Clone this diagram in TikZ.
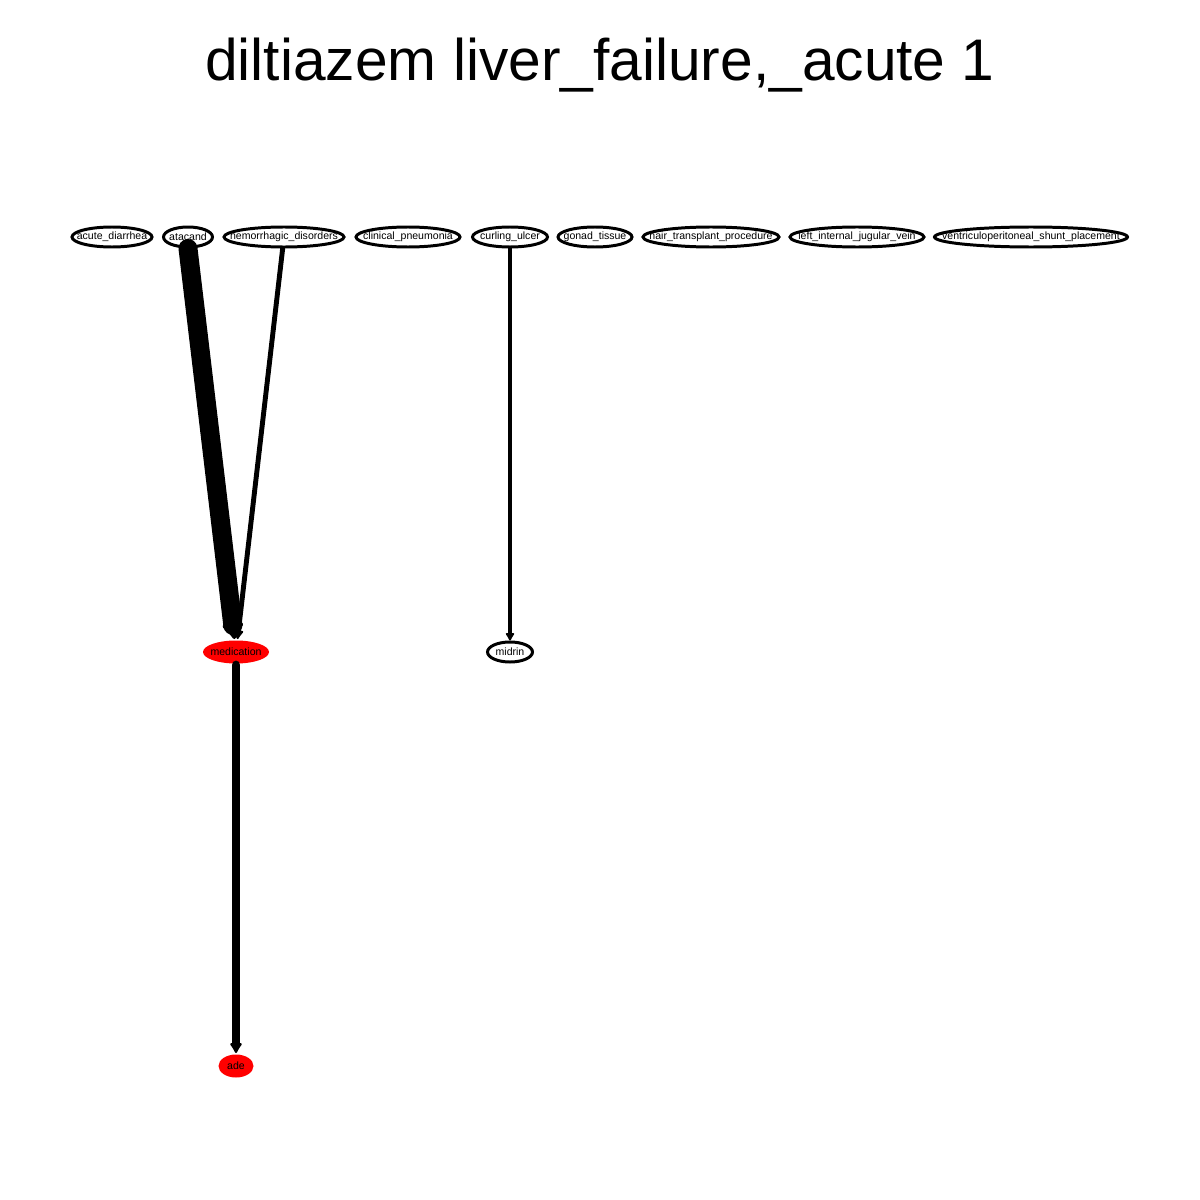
\documentclass[tikz,border=0pt]{standalone}
\usepackage{fontspec}
\setsansfont{Liberation Sans}
\usepackage{tikz}
\usetikzlibrary{shapes.geometric, arrows.meta}
\newcommand{\nlabel}[1]{\makebox[0pt]{#1}}

\begin{document}
\begin{tikzpicture}[x=0.1mm, y=-0.1mm,
    term/.style={ellipse, draw, line width=0.85pt, inner sep=0pt, minimum height=2mm,
        font=\sffamily\fontsize{3}{3}\selectfont},
    hit/.style={term, draw=none, fill=red, minimum height=2.3mm},
    link/.style={line cap=round}]
    \useasboundingbox (0,0) rectangle (1200,1200);
    \node[font=\sffamily\fontsize{16.7}{20}\selectfont] (title) at (600,65) {diltiazem liver\_failure,\_acute 1};
    % top row
    \node[term, minimum width=8mm] (diarrhea) at (112,237) {\nlabel{acute\_diarrhea}};
    \node[term, minimum width=4.9mm] (atacand) at (188,237) {\nlabel{atacand}};
    \node[term, minimum width=12mm] (hemo) at (284,237) {\nlabel{hemorrhagic\_disorders}};
    \node[term, minimum width=10.4mm] (pneu) at (408,237) {\nlabel{clinical\_pneumonia}};
    \node[term, minimum width=7.5mm] (curling) at (510,237) {\nlabel{curling\_ulcer}};
    \node[term, minimum width=7.4mm] (gonad) at (595,237) {\nlabel{gonad\_tissue}};
    \node[term, minimum width=13.6mm] (hair) at (711,237) {\nlabel{hair\_transplant\_procedure}};
    \node[term, minimum width=13.4mm] (jugular) at (857,237) {\nlabel{left\_internal\_jugular\_vein}};
    \node[term, minimum width=19.3mm] (shunt) at (1031,237) {\nlabel{ventriculoperitoneal\_shunt\_placement}};
    % lower nodes
    \node[hit, minimum width=6.6mm] (medication) at (236,652) {\nlabel{medication}};
    \node[term, minimum width=4.5mm] (midrin) at (510,652) {\nlabel{midrin}};
    \node[hit, minimum width=3.5mm] (ade) at (236,1066) {\nlabel{ade}};
    % edges
    \draw[link, line width=5.4pt, -{Latex[round, length=5pt, width=7.6pt]}] (atacand.south) -- (medication);
    \draw[link, line width=1.4pt, -{Latex[round, length=3pt, width=3.5pt]}] (hemo) -- (medication);
    \draw[link, line width=1.4pt, -{Latex[round, length=2.6pt, width=3pt]}] (curling) -- (midrin);
    \draw[link, line width=2.5pt, -{Latex[round, length=3.4pt, width=4.2pt]}] (medication) -- (ade);
\end{tikzpicture}
\end{document}
